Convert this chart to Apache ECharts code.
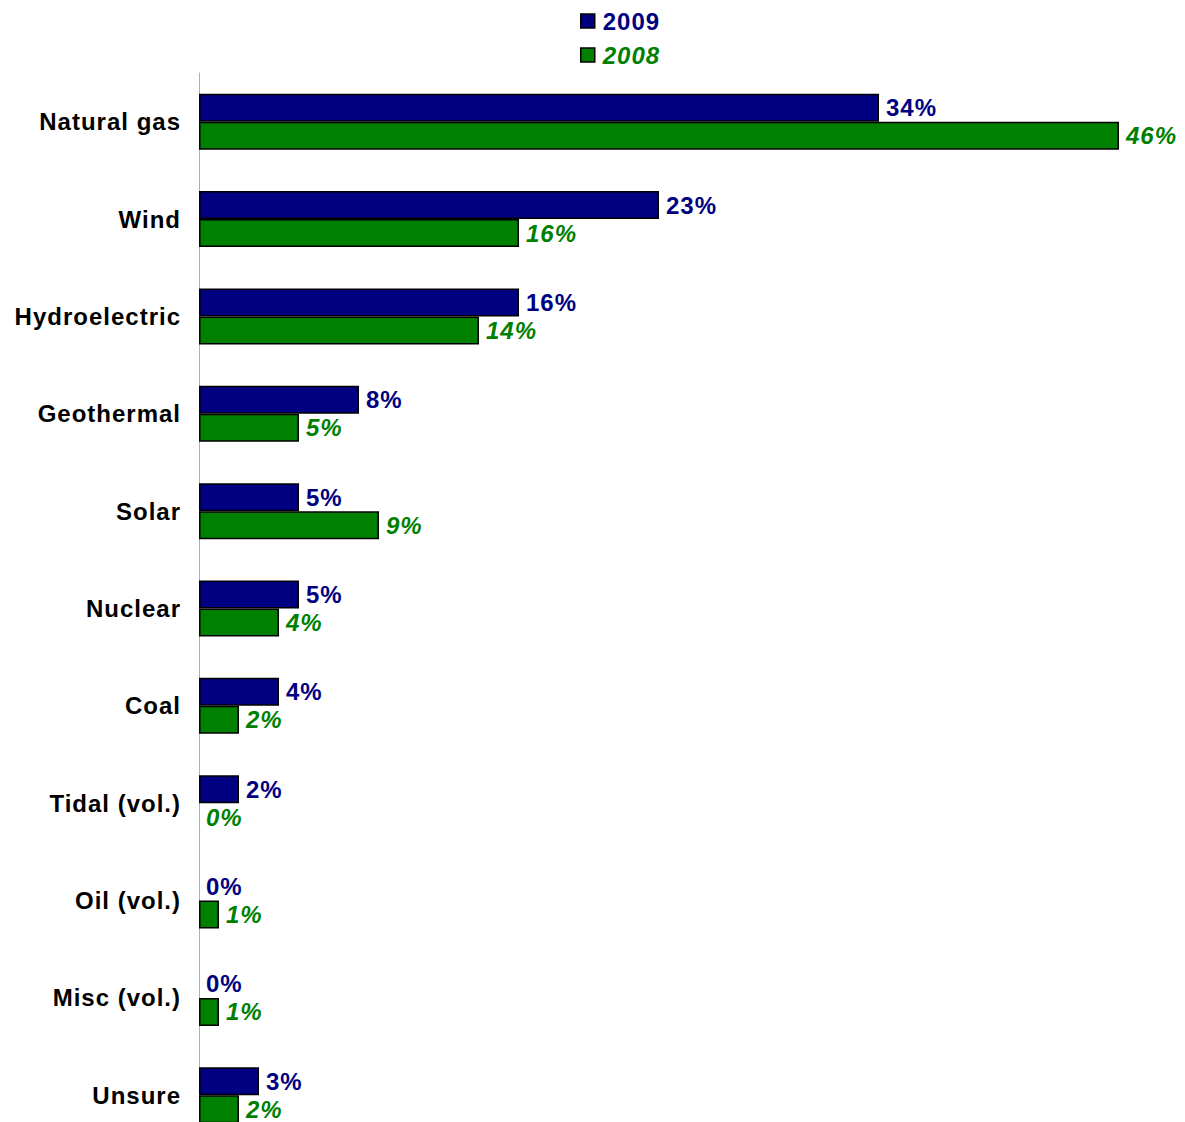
<!DOCTYPE html>
<html>
<head>
<meta charset="utf-8">
<script src="https://cdn.jsdelivr.net/npm/echarts@6/dist/echarts.min.js"></script>
<style>
  html, body { margin: 0; padding: 0; background: #fff; overflow: hidden; }
  #chart { width: 1185px; height: 1200px; }
  /* slightly spaced lettering for every chart label */
  #chart text { letter-spacing: 1px; }
</style>
</head>
<body>
<div id="chart"></div>
<script>
// Energy sources, listed top to bottom
const categories = ['Natural gas', 'Wind', 'Hydroelectric', 'Geothermal', 'Solar', 'Nuclear', 'Coal', 'Tidal (vol.)', 'Oil (vol.)', 'Misc (vol.)', 'Unsure'];
// Share of responses (%)
const values2009 = [34, 23, 16, 8, 5, 5, 4, 2, 0, 0, 3];
const values2008 = [46, 16, 14, 5, 9, 4, 2, 0, 1, 1, 2];
const seriesNames = ['2009', '2008'];

const NAVY = '#000080';
const GREEN = '#008000';
const FONT = '"Liberation Sans", Arial, sans-serif';
const SIZE = 24;

// zero-length bars get no outline so only the axis line shows there
const toItems = (vals) => vals.map(v => (v === 0 ? { value: v, itemStyle: { borderWidth: 0 } } : v));

const chart = echarts.init(document.getElementById('chart'), null, { renderer: 'svg' });

chart.setOption({
  animation: false,
  backgroundColor: '#ffffff',
  textStyle: { fontFamily: FONT },
  legend: {
    orient: 'vertical',
    left: 575,
    top: 4,
    itemWidth: 14,
    itemHeight: 14,
    itemGap: 10,
    icon: 'rect',
    data: [
      { name: seriesNames[0], textStyle: { color: NAVY, fontWeight: 'bold', fontSize: SIZE, fontFamily: FONT, padding: [0, 0, 0, 3] } },
      { name: seriesNames[1], textStyle: { color: GREEN, fontWeight: 'bold', fontStyle: 'italic', fontSize: SIZE, fontFamily: FONT, padding: [0, 0, 0, 3] } }
    ],
    itemStyle: { borderColor: '#000', borderWidth: 1.5 }
  },
  grid: { left: 199, top: 73, width: 920, height: 1071 },
  xAxis: {
    type: 'value',
    min: 0,
    max: 46,
    show: false
  },
  yAxis: {
    type: 'category',
    data: categories,
    inverse: true,
    axisLine: { show: true, lineStyle: { color: '#b0b0b0', width: 1 } },
    axisTick: { show: false },
    axisLabel: {
      color: '#000',
      fontWeight: 'bold',
      fontSize: SIZE,
      fontFamily: FONT,
      margin: 18
    }
  },
  series: [
    {
      name: seriesNames[0],
      type: 'bar',
      data: toItems(values2009),
      barWidth: 28,
      barGap: '0%',
      itemStyle: { color: NAVY, borderColor: '#000', borderWidth: 1.5 },
      label: {
        show: true,
        position: 'right',
        distance: 7,
        formatter: '{c}%',
        color: NAVY,
        fontWeight: 'bold',
        fontSize: SIZE,
        fontFamily: FONT
      }
    },
    {
      name: seriesNames[1],
      type: 'bar',
      data: toItems(values2008),
      barWidth: 28,
      barGap: '0%',
      itemStyle: { color: GREEN, borderColor: '#000', borderWidth: 1.5 },
      label: {
        show: true,
        position: 'right',
        distance: 7,
        formatter: '{c}%',
        color: GREEN,
        fontWeight: 'bold',
        fontStyle: 'italic',
        fontSize: SIZE,
        fontFamily: FONT
      }
    }
  ]
});
</script>
</body>
</html>
